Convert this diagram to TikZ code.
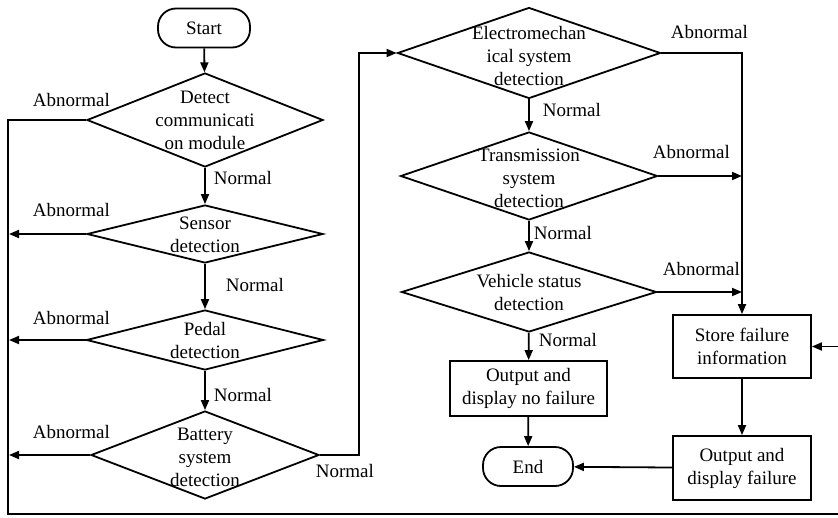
\documentclass[tikz,border=0pt]{standalone}
\usepackage{fontspec}
\setmainfont{Liberation Serif}
\usetikzlibrary{shapes.geometric,arrows.meta}
\begin{document}
\begin{tikzpicture}[x=1pt,y=-1pt,line width=1.8pt,
  every node/.style={font=\fontsize{19}{23}\selectfont,inner sep=0pt,align=center},
  decision/.style={diamond,draw,inner sep=0pt},
  procbox/.style={rectangle,draw},
  terminal/.style={rectangle,rounded corners=18pt,draw},
  lbl/.style={anchor=west},
  flow/.style={-{Triangle[length=10pt,width=8pt]}}]
\useasboundingbox (0,0) rectangle (838,517);

% terminals
\node[terminal,minimum width=92pt,minimum height=39pt] (start) at (204,28) {Start};
\node[terminal,minimum width=90pt,minimum height=39pt] (end) at (528,466.5) {End};

% left column of checks
\node[decision,minimum width=236pt,minimum height=94pt] (d1) at (205,120) {};
\node at (d1) {Detect\\communicati\\on module};
\node[decision,minimum width=236pt,minimum height=58pt] (d2) at (205,234) {};
\node at (205,235) {Sensor\\detection};
\node[decision,minimum width=237pt,minimum height=60pt] (d3) at (205,340) {};
\node at (205,340) {Pedal\\detection};
\node[decision,minimum width=228pt,minimum height=88pt] (d4) at (205,455) {};
\node at (205,457) {Battery\\system\\detection};

% right column of checks
\node[decision,minimum width=263pt,minimum height=91pt] (d5) at (529,53) {};
\node at (529,56) {Electromechan\\ical system\\detection};
\node[decision,minimum width=257pt,minimum height=88pt] (d6) at (529,176) {};
\node at (529,178) {Transmission\\system\\detection};
\node[decision,minimum width=255pt,minimum height=80pt] (d7) at (529,292) {};
\node at (529,292) {Vehicle status\\detection};

% process boxes
\node[procbox,minimum width=157pt,minimum height=55pt] (nofail) at (528.5,388.5) {Output and\\display no failure};
\node[procbox,minimum width=138pt,minimum height=63pt] (store) at (742,346.5) {Store failure\\information};
\node[procbox,minimum width=138pt,minimum height=64pt] (outfail) at (742,468) {Output and\\display failure};

% helper coordinates for the rails
\coordinate (rail) at (9,0);
\coordinate (lrail) at (8,0);
\coordinate (bot) at (0,514);
\coordinate (rrail) at (841,0);
\coordinate (mid) at (359,0);
\coordinate (frail) at (742,0);

% main flow
\draw[flow] (start) -- (d1);
\draw[flow] (d1) -- (d2);
\draw[flow] (d2) -- (d3);
\draw[flow] (d3) -- (d4);
\draw[flow] (d4.east) -- (d4.east -| mid) -- (d5.west -| mid) -- (d5.west);
\draw[flow] (d5) -- (d6);
\draw[flow] (d6) -- (d7);
\draw[flow] (d7) -- (nofail);
\draw[flow] (nofail) -- (end);

% abnormal branches on the left
\draw[flow] (d1.west) -- (d1.west -| lrail) -- (bot -| lrail) -- (bot -| rrail) -- (store.east -| rrail) -- (store.east);
\draw[flow] (d2.west) -- (d2.west -| rail);
\draw[flow] (d3.west) -- (d3.west -| rail);
\draw[flow] (d4.west) -- (d4.west -| rail);

% abnormal branches on the right
\draw[flow] (d5.east) -- (d5.east -| frail) -- (store.north);
\draw[flow] (d6.east) -- (d6.east -| frail);
\draw[flow] (d7.east) -- (d7.east -| frail);
\draw[flow] (store) -- (outfail);
\draw[flow] (outfail) -- (end);

% branch labels
\node[lbl] (a1) at (32,100) {Abnormal};
\node[lbl] (a2) at (32,210) {Abnormal};
\node[lbl] (a3) at (32,318) {Abnormal};
\node[lbl] (a4) at (32,432) {Abnormal};
\node[lbl] (n1) at (213,178) {Normal};
\node[lbl] (n2) at (225,285) {Normal};
\node[lbl] (n3) at (213,395) {Normal};
\node[lbl] (n4) at (315,471) {Normal};
\node[lbl] (a5) at (670,32) {Abnormal};
\node[lbl] (n5) at (542,110) {Normal};
\node[lbl] (a6) at (652,152) {Abnormal};
\node[lbl] (n6) at (533,233) {Normal};
\node[lbl] (a7) at (662,269) {Abnormal};
\node[lbl] (n7) at (538,340) {Normal};
\end{tikzpicture}
\end{document}
